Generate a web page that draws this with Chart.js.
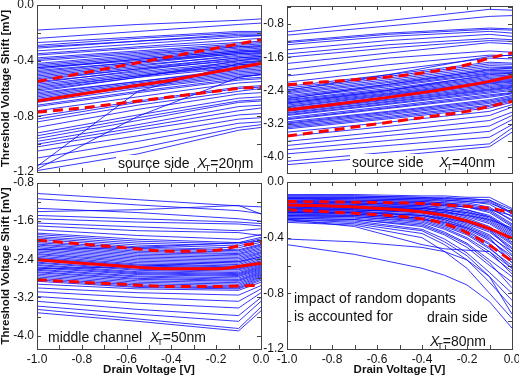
<!DOCTYPE html>
<html>
<head>
<meta charset="utf-8">
<script src="https://cdn.jsdelivr.net/npm/chart.js@4.4.0/dist/chart.umd.min.js"></script>
<style>
  html, body { margin: 0; padding: 0; background: #fff; }
  #wrap { position: relative; width: 519px; height: 376px; overflow: hidden; background: #fff; }
  #wrap canvas { position: absolute; left: 0; top: 0; }
</style>
</head>
<body>
<div id="wrap">
  <canvas id="c-tl" width="519" height="376"></canvas>
  <canvas id="c-tr" width="519" height="376"></canvas>
  <canvas id="c-bl" width="519" height="376"></canvas>
  <canvas id="c-br" width="519" height="376"></canvas>
</div>
<script>
// ── DATA ────────────────────────────────────────────────────
const xLabels = [-1.0, -0.8, -0.6, -0.4, -0.2, 0.0];
const xMinor  = [-1.0, -0.9, -0.8, -0.7, -0.6, -0.5, -0.4, -0.3, -0.2, -0.1, 0.0];
const redX    = [-1.0, -0.8, -0.6, -0.4, -0.2, -0.1, 0.0];

// top left: source side, XT = 20nm
const tlX = [-1.0, -0.55, -0.1, 0.0];
const tlBlue = [
  [-0.18, -0.14, -0.11, -0.10], [-0.24, -0.19, -0.14, -0.13], [-0.27, -0.23, -0.19, -0.19],
  [-0.29, -0.24, -0.20, -0.20], [-0.31, -0.26, -0.21, -0.21], [-0.33, -0.28, -0.23, -0.22],
  [-0.36, -0.31, -0.27, -0.26], [-0.38, -0.33, -0.28, -0.27], [-0.40, -0.35, -0.30, -0.29],
  [-0.42, -0.36, -0.30, -0.30], [-0.44, -0.38, -0.32, -0.31], [-0.46, -0.39, -0.33, -0.32],
  [-0.47, -0.41, -0.35, -0.34], [-0.49, -0.42, -0.35, -0.35], [-0.50, -0.43, -0.37, -0.36],
  [-0.52, -0.45, -0.38, -0.37], [-0.53, -0.46, -0.40, -0.39], [-0.55, -0.48, -0.41, -0.40],
  [-0.57, -0.49, -0.42, -0.41], [-0.59, -0.51, -0.44, -0.43], [-0.61, -0.52, -0.45, -0.44],
  [-0.63, -0.55, -0.47, -0.46], [-0.65, -0.56, -0.48, -0.47], [-0.67, -0.58, -0.50, -0.49],
  [-0.70, -0.60, -0.52, -0.50], [-0.73, -0.63, -0.54, -0.53], [-0.76, -0.66, -0.56, -0.55],
  [-0.80, -0.69, -0.59, -0.58], [-0.84, -0.72, -0.62, -0.60], [-0.88, -0.75, -0.64, -0.63],
  [-0.92, -0.79, -0.67, -0.66], [-0.96, -0.83, -0.70, -0.69], [-1.00, -0.88, -0.76, -0.74],
  [-1.05, -0.94, -0.82, -0.81], [-1.10, -0.98, -0.85, -0.84], [-1.15, -1.03, -0.88, -0.86],
  [-1.19, -1.07, -0.90, -0.88], [-1.16, -0.62, -0.42, -0.40], [-1.18, -0.80, -0.52, -0.50],
  [-0.62, -0.52, -0.40, -0.38], [-0.45, -0.40, -0.34, -0.33], [-0.56, -0.47, -0.39, -0.38],
  [-0.39, -0.34, -0.29, -0.28], [-0.43, -0.37, -0.31, -0.30], [-0.45, -0.39, -0.33, -0.33],
  [-0.48, -0.41, -0.34, -0.33], [-0.51, -0.44, -0.36, -0.35], [-0.54, -0.46, -0.38, -0.37],
  [-0.58, -0.50, -0.43, -0.42], [-0.60, -0.51, -0.43, -0.42], [-0.64, -0.55, -0.46, -0.45],
  [-0.66, -0.57, -0.49, -0.48], [-0.68, -0.59, -0.51, -0.50], [-0.72, -0.62, -0.53, -0.52],
  [-0.35, -0.30, -0.25, -0.24], [-0.30, -0.26, -0.22, -0.22], [-0.82, -0.70, -0.60, -0.59],
  [-0.94, -0.81, -0.69, -0.68], [-0.98, -0.86, -0.73, -0.72], [-1.02, -0.90, -0.79, -0.78]
];
const tlMean  = [-0.69, -0.64, -0.59, -0.54, -0.48, -0.45, -0.42];
const tlUpper = [-0.55, -0.49, -0.43, -0.37, -0.31, -0.28, -0.25];
const tlLower = [-0.77, -0.74, -0.70, -0.66, -0.62, -0.60, -0.59];
const tlYTicks = [0.0, -0.4, -0.8, -1.2];
const tlYMinor = [0.0, -0.2, -0.4, -0.6, -0.8, -1.0, -1.2];

// top right: source side, XT = 40nm
const trX = [-1.0, -0.55, -0.1, 0.0];
const trBlue = [
  [-0.99, -0.72, -0.45, -0.47], [-1.07, -0.85, -0.62, -0.60], [-1.22, -1.02, -0.90, -0.92],
  [-1.30, -1.10, -0.98, -1.02], [-1.42, -1.20, -1.05, -1.10], [-1.52, -1.30, -1.15, -1.18],
  [-1.75, -1.50, -1.25, -1.28], [-1.90, -1.62, -1.45, -1.48], [-2.05, -1.78, -1.55, -1.56],
  [-2.20, -1.92, -1.62, -1.64], [-2.30, -2.02, -1.72, -1.74], [-2.38, -2.10, -1.80, -1.82],
  [-2.45, -2.18, -1.88, -1.88], [-2.52, -2.25, -1.95, -1.95], [-2.58, -2.31, -2.00, -2.00],
  [-2.64, -2.38, -2.08, -2.06], [-2.70, -2.43, -2.14, -2.12], [-2.75, -2.48, -2.20, -2.16],
  [-2.80, -2.52, -2.24, -2.20], [-2.85, -2.58, -2.30, -2.26], [-2.90, -2.63, -2.36, -2.30],
  [-2.95, -2.68, -2.40, -2.34], [-3.00, -2.73, -2.46, -2.40], [-3.05, -2.78, -2.50, -2.45],
  [-3.10, -2.83, -2.56, -2.48], [-3.15, -2.90, -2.62, -2.52], [-3.20, -2.95, -2.68, -2.58],
  [-3.26, -3.02, -2.75, -2.62], [-3.32, -3.08, -2.82, -2.68], [-3.40, -3.16, -2.90, -2.74],
  [-3.50, -3.26, -3.00, -2.80], [-3.62, -3.38, -3.12, -2.92], [-3.72, -3.48, -3.25, -3.00],
  [-3.82, -3.60, -3.38, -3.10], [-3.92, -3.72, -3.52, -3.22], [-4.10, -3.88, -3.68, -3.30],
  [-4.18, -3.98, -3.75, -3.40], [-2.40, -2.02, -1.58, -1.55], [-2.60, -2.25, -1.90, -1.86],
  [-2.70, -2.40, -2.02, -1.98],
  [-2.34, -2.06, -1.76, -1.77], [-2.42, -2.14, -1.84, -1.85], [-2.48, -2.21, -1.92, -1.92],
  [-2.55, -2.28, -1.98, -1.97], [-2.62, -2.35, -2.05, -2.03], [-2.67, -2.40, -2.11, -2.09],
  [-2.72, -2.46, -2.17, -2.14], [-2.78, -2.50, -2.22, -2.18], [-2.83, -2.55, -2.27, -2.23],
  [-2.88, -2.61, -2.33, -2.28], [-2.93, -2.66, -2.38, -2.32], [-2.98, -2.71, -2.43, -2.37],
  [-3.08, -2.81, -2.53, -2.46], [-3.18, -2.92, -2.65, -2.55], [-3.23, -2.98, -2.71, -2.60],
  [-3.29, -3.05, -2.78, -2.65], [-1.25, -1.05, -0.93, -0.95], [-1.60, -1.38, -1.20, -1.22]
];
const trMean  = [-2.87, -2.74, -2.60, -2.45, -2.28, -2.18, -2.06];
const trUpper = [-2.26, -2.18, -2.10, -1.98, -1.78, -1.62, -1.50];
const trLower = [-3.49, -3.35, -3.20, -3.05, -2.90, -2.78, -2.66];
const trYTicks = [-0.8, -1.6, -2.4, -3.2, -4.0];
const trYMinor = [-0.4, -0.8, -1.2, -1.6, -2.0, -2.4, -2.8, -3.2, -3.6, -4.0];

// bottom left: middle channel, XT = 50nm
const blX = [-1.0, -0.55, -0.1, 0.0];
const blBlue = [
  [-1.02, -1.15, -1.28, -1.30], [-1.13, -1.26, -1.38, -1.44], [-1.33, -1.42, -1.55, -1.60],
  [-1.40, -1.36, -1.27, -1.45], [-1.48, -1.55, -1.62, -1.65], [-1.55, -1.62, -1.66, -1.70],
  [-1.64, -1.72, -1.80, -1.76], [-1.78, -1.90, -1.98, -1.88], [-1.85, -1.98, -2.05, -1.94],
  [-1.92, -2.06, -2.12, -2.00], [-1.98, -2.14, -2.20, -2.08], [-2.05, -2.20, -2.25, -2.12],
  [-2.10, -2.26, -2.30, -2.18], [-2.16, -2.32, -2.36, -2.24], [-2.22, -2.38, -2.42, -2.28],
  [-2.28, -2.44, -2.48, -2.34], [-2.33, -2.50, -2.54, -2.40], [-2.38, -2.54, -2.58, -2.45],
  [-2.43, -2.58, -2.62, -2.50], [-2.48, -2.63, -2.68, -2.54], [-2.53, -2.68, -2.72, -2.58],
  [-2.58, -2.72, -2.76, -2.62], [-2.63, -2.77, -2.82, -2.66], [-2.68, -2.82, -2.86, -2.70],
  [-2.74, -2.88, -2.92, -2.74], [-2.80, -2.94, -2.98, -2.78], [-2.86, -2.99, -3.02, -2.84],
  [-2.92, -3.02, -3.05, -2.88], [-3.00, -3.10, -3.15, -2.95], [-3.08, -3.20, -3.28, -3.02],
  [-3.18, -3.32, -3.42, -3.10], [-3.28, -3.45, -3.58, -3.20], [-3.38, -3.55, -3.70, -3.28],
  [-3.45, -3.65, -3.85, -3.40], [-3.52, -3.70, -3.90, -3.48], [-2.20, -2.15, -2.05, -2.02],
  [-2.60, -2.55, -2.45, -2.35], [-1.70, -1.80, -1.84, -1.90],
  [-1.88, -2.02, -2.08, -1.97], [-1.95, -2.10, -2.16, -2.04], [-2.02, -2.17, -2.22, -2.10],
  [-2.08, -2.23, -2.28, -2.15], [-2.13, -2.29, -2.33, -2.21], [-2.19, -2.35, -2.39, -2.26],
  [-2.25, -2.41, -2.45, -2.31], [-2.30, -2.47, -2.51, -2.37], [-2.36, -2.52, -2.56, -2.43],
  [-2.41, -2.56, -2.60, -2.48], [-2.46, -2.61, -2.65, -2.52], [-2.51, -2.66, -2.70, -2.56],
  [-2.56, -2.70, -2.74, -2.60], [-2.61, -2.75, -2.79, -2.64], [-2.66, -2.80, -2.84, -2.68],
  [-2.71, -2.85, -2.89, -2.72], [-2.77, -2.91, -2.95, -2.76], [-2.83, -2.97, -3.00, -2.81]
];
const blMean  = [-2.41, -2.48, -2.55, -2.60, -2.60, -2.55, -2.48];
const blUpper = [-2.00, -2.08, -2.16, -2.23, -2.21, -2.12, -2.05];
const blLower = [-2.83, -2.88, -2.93, -2.97, -2.97, -2.96, -2.94];
const blYTicks = [-0.8, -1.6, -2.4, -3.2, -4.0];
const blYMinor = [-0.8, -1.2, -1.6, -2.0, -2.4, -2.8, -3.2, -3.6, -4.0];

// bottom right: drain side, XT = 80nm
const brX = [-1.0, -0.7, -0.4, -0.3, -0.2, -0.1, 0.0];
const brBlue = [
  [-0.09, -0.09, -0.10, -0.10, -0.11, -0.11, -0.19], [-0.10, -0.10, -0.11, -0.12, -0.12, -0.13, -0.22],
  [-0.11, -0.11, -0.12, -0.13, -0.14, -0.16, -0.25], [-0.12, -0.12, -0.13, -0.14, -0.15, -0.18, -0.28],
  [-0.13, -0.13, -0.14, -0.15, -0.17, -0.20, -0.30], [-0.14, -0.14, -0.15, -0.16, -0.18, -0.22, -0.32],
  [-0.14, -0.15, -0.16, -0.17, -0.20, -0.24, -0.34], [-0.15, -0.16, -0.17, -0.19, -0.21, -0.26, -0.36],
  [-0.16, -0.16, -0.18, -0.20, -0.23, -0.28, -0.38], [-0.17, -0.17, -0.19, -0.21, -0.25, -0.30, -0.40],
  [-0.17, -0.18, -0.20, -0.22, -0.26, -0.32, -0.43], [-0.18, -0.19, -0.21, -0.24, -0.28, -0.34, -0.45],
  [-0.19, -0.20, -0.22, -0.25, -0.30, -0.36, -0.48], [-0.20, -0.21, -0.23, -0.27, -0.32, -0.39, -0.50],
  [-0.21, -0.22, -0.24, -0.28, -0.34, -0.42, -0.53], [-0.22, -0.23, -0.26, -0.30, -0.36, -0.45, -0.56],
  [-0.23, -0.24, -0.27, -0.32, -0.38, -0.48, -0.60], [-0.24, -0.25, -0.29, -0.34, -0.41, -0.52, -0.64],
  [-0.25, -0.26, -0.30, -0.36, -0.44, -0.56, -0.68], [-0.26, -0.27, -0.32, -0.38, -0.47, -0.60, -0.72],
  [-0.27, -0.28, -0.34, -0.41, -0.51, -0.65, -0.80], [-0.28, -0.30, -0.37, -0.45, -0.56, -0.72, -0.90],
  [-0.29, -0.31, -0.40, -0.50, -0.62, -0.80, -0.98], [-0.15, -0.15, -0.16, -0.17, -0.18, -0.20, -0.24],
  [-0.12, -0.12, -0.13, -0.13, -0.14, -0.15, -0.22], [-0.18, -0.18, -0.19, -0.20, -0.22, -0.25, -0.35],
  [-0.20, -0.20, -0.21, -0.22, -0.24, -0.27, -0.33], [-0.22, -0.22, -0.24, -0.26, -0.29, -0.34, -0.50],
  [-0.24, -0.24, -0.27, -0.29, -0.33, -0.40, -0.58], [-0.41, -0.43, -0.47, -0.50, -0.56, -0.68, -0.95],
  [-0.45, -0.52, -0.62, -0.67, -0.74, -0.86, -1.05], [-0.27, -0.32, -0.45, -0.48, -0.49, -0.50, -0.62],
  [-0.10, -0.10, -0.11, -0.11, -0.12, -0.13, -0.20], [-0.11, -0.11, -0.12, -0.12, -0.13, -0.14, -0.23],
  [-0.12, -0.13, -0.14, -0.15, -0.16, -0.19, -0.27], [-0.13, -0.14, -0.15, -0.16, -0.18, -0.21, -0.31],
  [-0.15, -0.15, -0.17, -0.18, -0.20, -0.25, -0.35], [-0.16, -0.17, -0.18, -0.20, -0.22, -0.27, -0.37],
  [-0.17, -0.18, -0.19, -0.21, -0.24, -0.29, -0.39], [-0.18, -0.18, -0.20, -0.23, -0.27, -0.33, -0.44],
  [-0.19, -0.19, -0.21, -0.24, -0.29, -0.35, -0.47], [-0.20, -0.20, -0.22, -0.26, -0.31, -0.38, -0.52],
  [-0.21, -0.21, -0.24, -0.27, -0.33, -0.41, -0.55], [-0.22, -0.22, -0.25, -0.29, -0.35, -0.44, -0.58],
  [-0.23, -0.23, -0.26, -0.31, -0.37, -0.47, -0.62], [-0.25, -0.25, -0.28, -0.33, -0.40, -0.50, -0.66],
  [-0.26, -0.27, -0.31, -0.37, -0.45, -0.58, -0.76], [-0.27, -0.29, -0.35, -0.43, -0.53, -0.68, -0.85]
];
const brMean  = [-0.165, -0.18, -0.215, -0.24, -0.28, -0.335, -0.405];
const brUpper = [-0.14, -0.145, -0.155, -0.165, -0.175, -0.19, -0.22];
const brLower = [-0.20, -0.225, -0.265, -0.30, -0.365, -0.455, -0.57];
const brYTicks = [0.0, -0.4, -0.8, -1.2];
const brYMinor = [0.0, -0.2, -0.4, -0.6, -0.8, -1.0, -1.2];

// ── STYLE ───────────────────────────────────────────────────
const FONT = '"Liberation Sans", Arial, Helvetica, sans-serif';
const W = 519, H = 376;
const BLUE = 'rgba(10,10,255,0.82)';
const RED = '#ff0000';

// ── PLUGIN: frame, inward ticks, notes ──────────────────────
function fontFor(k) {
  if (k === 'i') return 'italic 14px ' + FONT;
  if (k === 's') return '9px ' + FONT;
  return '14px ' + FONT;
}

function drawNote(ctx, note) {
  let x = note.x;
  const segs = note.parts.map(([t, k]) => {
    ctx.font = fontFor(k);
    if (k === 's') x -= 2;
    const s = { t, k, x };
    x += ctx.measureText(t).width;
    return s;
  });
  if (note.bg) {
    ctx.fillStyle = '#fff';
    ctx.fillRect(note.x - 2, note.y - 13, x - note.x + 4, 19);
  }
  ctx.fillStyle = '#111';
  ctx.textBaseline = 'alphabetic';
  ctx.textAlign = 'left';
  segs.forEach(s => {
    ctx.font = fontFor(s.k);
    ctx.fillText(s.t, s.x, note.y + (s.k === 's' ? 3 : 0));
  });
}

const framePlugin = {
  id: 'frame',
  afterDatasetsDraw(chart, args, opts) {
    const { ctx, chartArea: a, scales: { x, y } } = chart;
    ctx.save();
    (opts.notes || []).forEach(n => drawNote(ctx, n));
    ctx.strokeStyle = '#444';
    ctx.lineWidth = 1;
    ctx.beginPath();
    xMinor.forEach(v => {
      const px = Math.round(x.getPixelForValue(v)) + 0.5;
      ctx.moveTo(px, a.top); ctx.lineTo(px, a.top + 4);
      ctx.moveTo(px, a.bottom); ctx.lineTo(px, a.bottom - 4);
    });
    opts.yMinor.forEach(v => {
      const py = Math.round(y.getPixelForValue(v)) + 0.5;
      ctx.moveTo(a.left, py); ctx.lineTo(a.left + 4, py);
      ctx.moveTo(a.right, py); ctx.lineTo(a.right - 4, py);
    });
    ctx.stroke();
    ctx.strokeRect(a.left + 0.5, a.top + 0.5, a.right - a.left, a.bottom - a.top);
    ctx.restore();
  }
};

// ── BUILD ───────────────────────────────────────────────────
function redSet(xs, ys, dash) {
  return {
    data: ys.map((v, i) => ({ x: xs[i], y: v })),
    borderColor: RED, borderWidth: 3, borderDash: dash,
    pointRadius: 0, cubicInterpolationMode: 'monotone'
  };
}

function makePanel(id, p) {
  const datasets = [
    redSet(p.redX, p.mean, []),
    redSet(p.redX, p.upper, [10, 6]),
    redSet(p.redX, p.lower, [10, 6]),
    ...p.blue.map(line => ({
      data: line.map((v, i) => ({ x: p.blueX[i], y: v })),
      borderColor: BLUE, borderWidth: 1, pointRadius: 0, tension: 0
    }))
  ];
  const tickFont = { family: FONT, size: 12 };
  const titleFont = { family: FONT, size: 11.5, weight: 'bold', lineHeight: 1 };

  return new Chart(document.getElementById(id), {
    type: 'line',
    data: { datasets },
    options: {
      responsive: false, animation: false, events: [],
      layout: { padding: { left: 0, top: p.box.t, right: W - p.box.r, bottom: 0 } },
      plugins: {
        legend: { display: false }, tooltip: { enabled: false },
        frame: { yMinor: p.yMinor, notes: p.notes }
      },
      scales: {
        x: {
          type: 'linear', min: -1, max: 0,
          grid: { display: false, drawTicks: false }, border: { display: false },
          afterBuildTicks: s => { s.ticks = xLabels.map(v => ({ value: v })); },
          afterFit: s => { s.height = H - p.box.b; s.paddingLeft = 0; s.paddingRight = 0; },
          ticks: { display: p.showX, autoSkip: false, maxRotation: 0, padding: 3, color: '#111',
                   font: tickFont, callback: v => v.toFixed(1) },
          title: { display: p.showX, text: 'Drain Voltage [V]', color: '#111', font: titleFont, padding: 0 }
        },
        y: {
          type: 'linear', min: p.yMin, max: p.yMax,
          grid: { display: false, drawTicks: false }, border: { display: false },
          afterBuildTicks: s => { s.ticks = p.yTicks.map(v => ({ value: v })); },
          afterFit: s => { s.width = p.box.l; s.paddingTop = 0; s.paddingBottom = 0; },
          ticks: { autoSkip: false, padding: 3, color: '#111', font: tickFont, callback: v => v.toFixed(1) },
          title: { display: p.yTitle, text: 'Threshold Voltage Shift [mV]', color: '#111', font: titleFont, padding: 0 }
        }
      }
    },
    plugins: [framePlugin]
  });
}

makePanel('c-tl', {
  blueX: tlX, blue: tlBlue, redX, mean: tlMean, upper: tlUpper, lower: tlLower,
  yMin: -1.2, yMax: 0, yTicks: tlYTicks, yMinor: tlYMinor,
  box: { l: 37, t: 5, r: 261, b: 172 }, showX: false, yTitle: true,
  notes: [{ x: 118, y: 168, bg: true,
    parts: [['source side  ', 'n'], ['X', 'i'], ['T', 's'], ['=20nm', 'n']] }]
});

makePanel('c-tr', {
  blueX: trX, blue: trBlue, redX, mean: trMean, upper: trUpper, lower: trLower,
  yMin: -4.38, yMax: -0.37, yTicks: trYTicks, yMinor: trYMinor,
  box: { l: 287, t: 6, r: 512, b: 173 }, showX: false, yTitle: false,
  notes: [{ x: 352, y: 167, bg: true,
    parts: [['source side    ', 'n'], ['X', 'i'], ['T', 's'], ['=40nm', 'n']] }]
});

makePanel('c-bl', {
  blueX: blX, blue: blBlue, redX, mean: blMean, upper: blUpper, lower: blLower,
  yMin: -4.28, yMax: -0.8, yTicks: blYTicks, yMinor: blYMinor,
  box: { l: 37, t: 183, r: 261, b: 349 }, showX: true, yTitle: true,
  notes: [{ x: 48, y: 342, bg: true,
    parts: [['middle channel  ', 'n'], ['X', 'i'], ['T', 's'], ['=50nm', 'n']] }]
});

makePanel('c-br', {
  blueX: brX, blue: brBlue, redX: brX, mean: brMean, upper: brUpper, lower: brLower,
  yMin: -1.2, yMax: 0, yTicks: brYTicks, yMinor: brYMinor,
  box: { l: 287, t: 182, r: 512, b: 349 }, showX: true, yTitle: false,
  notes: [
    { x: 294, y: 303, parts: [['impact of random dopants', 'n']] },
    { x: 294, y: 321, parts: [['is accounted for', 'n']] },
    { x: 427, y: 322, parts: [['drain side', 'n']] },
    { x: 430, y: 346, parts: [['X', 'i'], ['T', 's'], ['=80nm', 'n']] }
  ]
});
</script>
</body>
</html>
